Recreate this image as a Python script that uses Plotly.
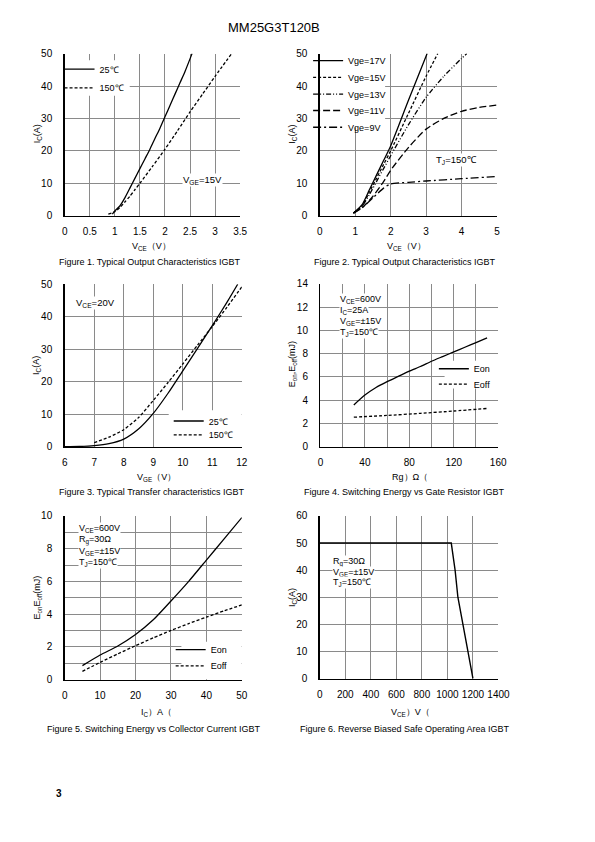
import plotly.graph_objects as go

W, H = 595, 842
FONT = "Liberation Sans, Arial, Helvetica, sans-serif"
GRID = "#8a8a8a"


def px(x):
    return x / W


def py(y):
    return 1 - y / H


# ---------------- data ----------------
# Figure 1: Ic vs Vce, Vge=15V
f1_vce_25c = [0.95, 1.0, 1.1, 1.2, 1.3, 1.4, 1.5, 1.6, 1.7, 1.8, 1.9, 2.0, 2.1, 2.2, 2.3, 2.4, 2.54]
f1_ic_25c = [0.5, 1.5, 3, 5.5, 8.5, 11.5, 14.5, 17.5, 20.5, 23.8, 27, 30.5, 34, 37.5, 41, 44.5, 50]
f1_vce_150c = [0.87, 1.0, 1.1, 1.2, 1.3, 1.4, 1.5, 1.75, 2.0, 2.25, 2.5, 2.75, 3.0, 3.33]
f1_ic_150c = [0.5, 1.2, 2.5, 4.2, 6, 8, 10, 15.2, 20.5, 26.2, 32, 37.5, 43, 50]

# Figure 2: Ic vs Vce at Tj=150C, several Vge
f2_vce_17 = [0.95, 1.2, 1.4, 1.6, 1.8, 2.0, 2.5, 3.03]
f2_ic_17 = [0.8, 3.5, 8, 12.5, 17, 21.5, 35.5, 50]
f2_vce_15 = [0.95, 1.2, 1.4, 1.6, 1.8, 2.0, 2.5, 3.0, 3.33]
f2_ic_15 = [0.8, 3.2, 7.3, 11.5, 15.8, 20, 31.5, 43, 50]
f2_vce_13 = [0.95, 1.2, 1.4, 1.6, 1.8, 2.0, 2.5, 3.0, 3.5, 4.0, 4.15]
f2_ic_13 = [0.8, 3, 6.5, 10.5, 14.5, 18.5, 28, 36.5, 43, 48.5, 50]
f2_vce_11 = [0.95, 1.2, 1.5, 1.8, 2.0, 2.5, 3.0, 3.5, 4.0, 4.5, 5.0]
f2_ic_11 = [0.8, 2.5, 6, 10.5, 14, 21, 26.7, 30, 32.2, 33.4, 34.1]
f2_vce_9 = [0.95, 1.2, 1.5, 1.8, 2.0, 2.5, 3.0, 4.0, 5.0]
f2_ic_9 = [0.8, 2.5, 5.5, 8.5, 9.8, 10.3, 10.7, 11.4, 12.1]

# Figure 3: transfer characteristics, Vce=20V
f3_vge_25c = [6, 6.5, 7, 7.5, 8, 8.5, 9, 9.5, 10, 10.5, 11, 11.5, 11.86]
f3_ic_25c = [0.1, 0.15, 0.4, 1, 2.4, 5.5, 10.3, 16.5, 23.4, 30.3, 37.3, 44.5, 50]
f3_vge_150c = [7, 7.5, 8, 8.5, 9, 9.5, 10, 10.5, 11, 11.5, 12]
f3_ic_150c = [1.3, 3, 5.3, 9, 14.3, 19.8, 25.5, 31.3, 37, 43, 49.2]

# Figure 4: switching energy vs gate resistor
f4_rg_on = [30, 40, 50, 60, 70, 80, 90, 100, 110, 120, 130, 140, 150]
f4_eon = [3.6, 4.45, 5.1, 5.6, 6.05, 6.5, 6.9, 7.35, 7.75, 8.15, 8.55, 8.95, 9.35]
f4_rg_off = [30, 60, 90, 120, 150]
f4_eoff = [2.55, 2.7, 2.88, 3.08, 3.3]

# Figure 5: switching energy vs collector current
f5_ic = [5, 10, 15, 20, 25, 30, 35, 40, 45, 50]
f5_eon = [0.85, 1.5, 2.05, 2.75, 3.65, 4.8, 6.0, 7.3, 8.6, 9.9]
f5_eoff = [0.5, 1.05, 1.57, 2.07, 2.55, 3.0, 3.42, 3.82, 4.2, 4.56]

# Figure 6: RBSOA
f6_vce = [0, 1030, 1060, 1082, 1200]
f6_ic = [50, 50, 40, 30, 0]

# ---------------- panels (pixel boxes) ----------------
panels = {
    1: dict(x=(63.3, 243.3), y=(48.3, 212.7), xr=[0, 3.5], xd=0.5, x0=0, yr=[0, 50], yd=10),
    2: dict(x=(325, 506.7), y=(48.3, 212.7), xr=[0, 5], xd=1, x0=0, yr=[0, 50], yd=10),
    3: dict(x=(63.3, 245), y=(282.3, 447.3), xr=[6, 12], xd=1, x0=6, yr=[0, 50], yd=10),
    4: dict(x=(325.7, 508), y=(281.7, 447.3), xr=[0, 160], xd=40, x0=0, yr=[0, 14], yd=2, xminor=20),
    5: dict(x=(63.3, 245), y=(517.3, 683.3), xr=[0, 50], xd=10, x0=0, yr=[0, 10], yd=2, yminor=1),
    6: dict(x=(325, 508.3), y=(517.3, 682.3), xr=[0, 1400], xd=200, x0=0, yr=[0, 60], yd=10),
}

layout = dict(
    width=W, height=H, margin=dict(l=0, r=0, t=0, b=0),
    paper_bgcolor="white", plot_bgcolor="white",
    font=dict(family=FONT, size=10, color="black"),
    showlegend=True,
)

for i, p in panels.items():
    sx = "" if i == 1 else str(i)
    common = dict(showline=True, linecolor="black", linewidth=1.5, mirror=False,
                  showgrid=True, gridcolor=GRID, gridwidth=1, zeroline=False,
                  ticks="", tickfont=dict(size=10, family=FONT, color="black"),
                  fixedrange=True)
    xa = dict(domain=[px(p["x"][0]), px(p["x"][1])], anchor="y" + sx, range=p["xr"],
              dtick=p["xd"], tick0=p["x0"], ticklabelstandoff=6, **common)
    ya = dict(domain=[py(p["y"][1]), py(p["y"][0])], anchor="x" + sx, range=p["yr"],
              dtick=p["yd"], tick0=0, ticklabelstandoff=9, **common)
    if "xminor" in p:
        xa["minor"] = dict(dtick=p["xminor"], showgrid=True, gridcolor=GRID, gridwidth=1, ticks="")
    if "yminor" in p:
        ya["minor"] = dict(dtick=p["yminor"], showgrid=True, gridcolor=GRID, gridwidth=1, ticks="")
    layout["xaxis" + sx] = xa
    layout["yaxis" + sx] = ya

fig = go.Figure()

legend_count = [0]


def add_line(panel, xs, ys, name, dash, legend_pos=None, width=1.3, shape="spline"):
    sx = "" if panel == 1 else str(panel)
    kw = {}
    if legend_pos is not None:
        legend_count[0] += 1
        n = legend_count[0]
        lname = "legend" if n == 1 else "legend%d" % n
        layout[lname] = dict(
            x=px(legend_pos[0] - 40), y=py(legend_pos[1]), xanchor="left", yanchor="middle",
            bgcolor="rgba(0,0,0,0)", borderwidth=0, itemwidth=30,
            font=dict(size=9, family=FONT, color="black"),
            itemclick=False, itemdoubleclick=False,
        )
        kw["legend"] = lname
        kw["showlegend"] = True
    else:
        kw["showlegend"] = False
    line = dict(color="black", width=width, dash=dash, shape=shape)
    if shape == "spline":
        line["smoothing"] = 0.6
    fig.add_trace(go.Scatter(
        x=xs, y=ys, name=name, mode="lines", line=line,
        xaxis="x" + sx, yaxis="y" + sx, hoverinfo="skip", **kw))


# Figure 1
add_line(1, f1_vce_25c, f1_ic_25c, "25℃", "solid", (98, 64))
add_line(1, f1_vce_150c, f1_ic_150c, "150℃", "3px,2px", (98, 83))
# Figure 2
add_line(2, f2_vce_17, f2_ic_17, "Vge=17V", "solid", (353, 55.5))
add_line(2, f2_vce_15, f2_ic_15, "Vge=15V", "3px,2px", (353, 72.5))
add_line(2, f2_vce_13, f2_ic_13, "Vge=13V", "5px,2px,1px,2px,1px,2px", (353, 89.5))
add_line(2, f2_vce_11, f2_ic_11, "Vge=11V", "7px,3px", (353, 106))
add_line(2, f2_vce_9, f2_ic_9, "Vge=9V", "8px,3px,2px,3px", (353, 123))
# Figure 3
add_line(3, f3_vge_25c, f3_ic_25c, "25℃", "solid", (210, 421))
add_line(3, f3_vge_150c, f3_ic_150c, "150℃", "3px,2px", (210, 435))
# Figure 4
add_line(4, f4_rg_on, f4_eon, "Eon", "solid", (482, 368))
add_line(4, f4_rg_off, f4_eoff, "Eoff", "3px,2px", (482, 383.5))
# Figure 5
add_line(5, f5_ic, f5_eon, "Eon", "solid", (212, 653))
add_line(5, f5_ic, f5_eoff, "Eoff", "3px,2px", (212, 669.5))
# Figure 6
add_line(6, f6_vce, f6_ic, "RBSOA", "solid", None, width=1.4, shape="linear")

# white boxes behind the legends (above gridlines, below traces), given in page pixels
white_boxes = {1: (63.3, 55, 130, 91), 2: (325, 48.3, 392, 123), 3: (170, 410, 245, 447.3),
               4: (453, 360, 508, 388), 5: (183, 645, 245, 683.3)}
shapes = []
for i, (bx0, by0, bx1, by1) in white_boxes.items():
    p = panels[i]
    sx = "" if i == 1 else str(i)

    def fx(v, p=p):
        return p["xr"][0] + (v - p["x"][0]) / (p["x"][1] - p["x"][0]) * (p["xr"][1] - p["xr"][0])

    def fy(v, p=p):
        return p["yr"][0] + (p["y"][1] - v) / (p["y"][1] - p["y"][0]) * (p["yr"][1] - p["yr"][0])

    shapes.append(dict(type="rect", xref="x" + sx, yref="y" + sx,
                       x0=fx(bx0), x1=fx(bx1), y0=fy(by1), y1=fy(by0),
                       fillcolor="white", line=dict(width=0), layer="between"))
layout["shapes"] = shapes

ann = []


def txt(x, y, t, size=9, xanchor="center", bg=None, angle=0, bold=False):
    d = dict(x=px(x), y=py(y), xref="paper", yref="paper", text=t, showarrow=False,
             xanchor=xanchor, yanchor="middle", textangle=angle,
             font=dict(size=size, family=FONT, color="black"))
    if bg:
        d["bgcolor"] = bg
        d["borderpad"] = 0
    if bold:
        d["text"] = "<b>%s</b>" % t
    ann.append(d)


# page header / footer
txt(278, 22, "MM25G3T120B", size=13)
txt(57, 799, "3", size=10, bold=True)

# axis titles & captions
titles = [
    (35, 130, "I<sub>C</sub>(A)", 152, 244, "V<sub>CE</sub>（V）", 150, 260,
     "Figure 1. Typical Output Characteristics IGBT"),
    (297, 130, "I<sub>C</sub>(A)", 414, 244, "V<sub>CE</sub>（V）", 412, 260,
     "Figure 2. Typical Output Characteristics IGBT"),
    (35, 365, "I<sub>C</sub>(A)", 157, 478, "V<sub>GE</sub>（V）", 152, 493,
     "Figure 3. Typical Transfer characteristics IGBT"),
    (297, 364, "E<sub>on</sub>,E<sub>off</sub>(mJ)", 418, 478, "Rg）Ω（", 412, 493,
     "Figure 4. Switching Energy vs Gate Resistor IGBT"),
    (35, 600, "E<sub>on</sub>E<sub>off</sub>(mJ)", 157, 717, "I<sub>C</sub>）A（", 155, 733,
     "Figure 5. Switching Energy vs Collector Current IGBT"),
    (297, 600, "I<sub>C</sub>(A)", 418, 717, "V<sub>CE</sub>）V（", 412, 733,
     "Figure 6. Reverse Biased Safe Operating Area IGBT"),
]
for (yx, yy, yt, xx, xy, xt, cx, cy, ct) in titles:
    txt(yx, yy, yt, size=9, angle=-90)
    txt(xx, xy, xt, size=9)
    txt(cx, cy, ct, size=9)

# in-plot notes
txt(205, 177, "V<sub>GE</sub>=15V", size=9.5, bg="white")
txt(465, 156, "T<sub>J</sub>=150℃", size=9.5, bg="white")
txt(95, 301, "V<sub>CE</sub>=20V", size=9.5, bg="white")

for i, line in enumerate(["V<sub>CE</sub>=600V", "I<sub>C</sub>=25A", "V<sub>GE</sub>=±15V", "T<sub>J</sub>=150℃"]):
    txt(345, 298 + i * 11, line, size=9, xanchor="left", bg="white")
for i, line in enumerate(["V<sub>CE</sub>=600V", "R<sub>g</sub>=30Ω", "V<sub>GE</sub>=±15V", "T<sub>J</sub>=150℃"]):
    txt(77, 530 + i * 11.5, line, size=9, xanchor="left", bg="white")
for i, line in enumerate(["R<sub>g</sub>=30Ω", "V<sub>GE</sub>=±15V", "T<sub>J</sub>=150℃"]):
    txt(337, 564 + i * 10.5, line, size=9, xanchor="left", bg="white")

layout["annotations"] = ann
fig.update_layout(**layout)
fig.write_html(
    "out.html",
    config=dict(displayModeBar=False, staticPlot=True),
    post_script="document.body.style.margin='0';document.body.style.overflow='hidden';",
)
